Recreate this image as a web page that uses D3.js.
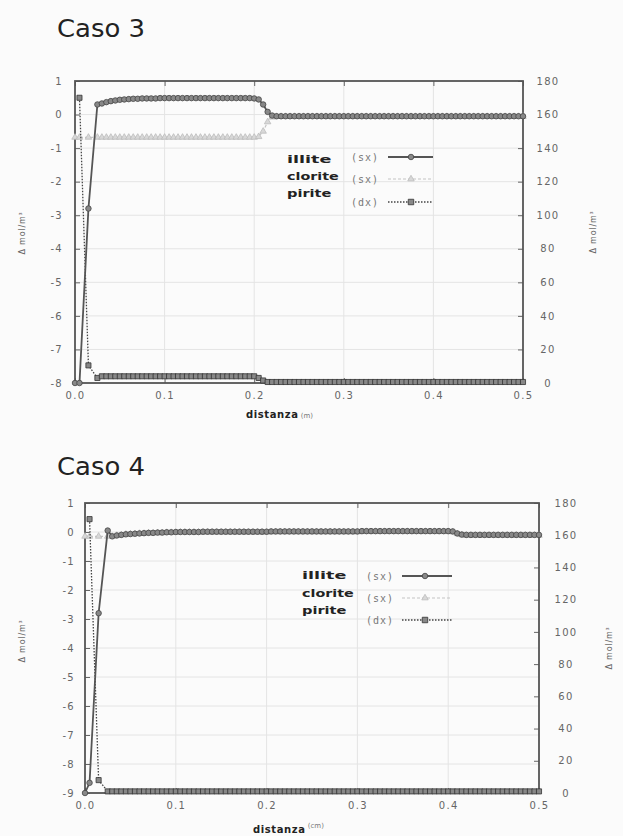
<!DOCTYPE html>
<html><head><meta charset="utf-8">
<script src="https://cdn.jsdelivr.net/npm/d3@7"></script>
<style>body{margin:0;background:#fbfbfb} svg{display:block}</style>
</head><body><svg id="c" width="623" height="836"></svg>
<script>
// ---------- DATA ----------
const distance = [0,0.005,0.015,
 0.025,0.03,0.035,0.04,0.045,0.05,0.055,0.06,0.065,0.07,0.075,0.08,0.085,0.09,0.095,0.1,
 0.105,0.11,0.115,0.12,0.125,0.13,0.135,0.14,0.145,0.15,0.155,0.16,0.165,0.17,0.175,0.18,0.185,0.19,0.195,0.2,
 0.205,0.21,0.215,0.22,0.225,0.23,0.235,0.24,0.245,0.25,0.255,0.26,0.265,0.27,0.275,0.28,0.285,0.29,0.295,0.3,
 0.305,0.31,0.315,0.32,0.325,0.33,0.335,0.34,0.345,0.35,0.355,0.36,0.365,0.37,0.375,0.38,0.385,0.39,0.395,0.4,
 0.405,0.41,0.415,0.42,0.425,0.43,0.435,0.44,0.445,0.45,0.455,0.46,0.465,0.47,0.475,0.48,0.485,0.49,0.495,0.5];

// Caso 3
const illite3 = [-8,-8,-2.8,
 0.3,0.33,0.37,0.4,0.42,0.44,0.45,0.46,0.47,0.47,0.48,0.48,0.48,0.48,0.49,0.49,
 0.49,0.49,0.49,0.49,0.49,0.49,0.49,0.49,0.49,0.49,0.49,0.49,0.49,0.49,0.49,0.49,0.49,0.49,0.49,0.48,
 0.45,0.3,0.08,-0.03,-0.05,-0.05,-0.05,-0.05,-0.05,-0.05,-0.05,-0.05,-0.05,-0.05,-0.05,-0.05,-0.05,-0.05,-0.05,-0.05,
 -0.05,-0.05,-0.05,-0.05,-0.05,-0.05,-0.05,-0.05,-0.05,-0.05,-0.05,-0.05,-0.05,-0.05,-0.05,-0.05,-0.05,-0.05,-0.05,-0.05,
 -0.05,-0.05,-0.05,-0.05,-0.05,-0.05,-0.05,-0.05,-0.05,-0.05,-0.05,-0.05,-0.05,-0.05,-0.05,-0.05,-0.05,-0.05,-0.05,-0.05];
const clorite3 = [-0.68,-0.68,-0.68,
 -0.68,-0.68,-0.68,-0.68,-0.68,-0.68,-0.68,-0.68,-0.68,-0.68,-0.68,-0.68,-0.68,-0.68,-0.68,-0.68,
 -0.68,-0.68,-0.68,-0.68,-0.68,-0.68,-0.68,-0.68,-0.68,-0.68,-0.68,-0.68,-0.68,-0.68,-0.68,-0.68,-0.68,-0.68,-0.68,-0.68,
 -0.66,-0.5,-0.22,-0.08,-0.06,-0.06,-0.06,-0.06,-0.06,-0.06,-0.06,-0.06,-0.06,-0.06,-0.06,-0.06,-0.06,-0.06,-0.06,-0.06,
 -0.06,-0.06,-0.06,-0.06,-0.06,-0.06,-0.06,-0.06,-0.06,-0.06,-0.06,-0.06,-0.06,-0.06,-0.06,-0.06,-0.06,-0.06,-0.06,-0.06,
 -0.06,-0.06,-0.06,-0.06,-0.06,-0.06,-0.06,-0.06,-0.06,-0.06,-0.06,-0.06,-0.06,-0.06,-0.06,-0.06,-0.06,-0.06,-0.06,-0.06];
const pirite3 = [null,170,10.5,
 3,4,4,4,4,4,4,4,4,4,4,4,4,4,4,4,
 4,4,4,4,4,4,4,4,4,4,4,4,4,4,4,4,4,4,4,4,
 3,1.5,0.6,0.6,0.6,0.6,0.6,0.6,0.6,0.6,0.6,0.6,0.6,0.6,0.6,0.6,0.6,0.6,0.6,0.6,
 0.6,0.6,0.6,0.6,0.6,0.6,0.6,0.6,0.6,0.6,0.6,0.6,0.6,0.6,0.6,0.6,0.6,0.6,0.6,0.6,
 0.6,0.6,0.6,0.6,0.6,0.6,0.6,0.6,0.6,0.6,0.6,0.6,0.6,0.6,0.6,0.6,0.6,0.6,0.6,0.6];

// Caso 4
const illite4 = [-9,-8.65,-2.8,
 0.05,-0.15,-0.12,-0.1,-0.08,-0.07,-0.06,-0.05,-0.04,-0.03,-0.03,-0.02,-0.02,-0.01,-0.01,0,
 0,0,0,0,0,0.01,0.01,0.01,0.01,0.01,0.01,0.01,0.01,0.01,0.01,0.01,0.01,0.01,0.01,0.01,
 0.02,0.02,0.02,0.02,0.02,0.02,0.02,0.02,0.02,0.02,0.02,0.02,0.02,0.02,0.02,0.02,0.02,0.02,0.02,0.02,
 0.03,0.03,0.03,0.03,0.03,0.03,0.03,0.03,0.03,0.03,0.03,0.03,0.03,0.03,0.03,0.03,0.03,0.03,0.03,0.03,
 0.02,-0.05,-0.09,-0.1,-0.1,-0.1,-0.1,-0.1,-0.1,-0.1,-0.1,-0.1,-0.1,-0.1,-0.1,-0.1,-0.1,-0.1,-0.1,-0.1];
const clorite4 = [-0.15,-0.15,-0.15,
 -0.15,-0.15,-0.12,-0.1,-0.08,-0.07,-0.06,-0.05,-0.05,-0.04,-0.04,-0.03,-0.03,-0.02,-0.02,-0.02,
 -0.01,-0.01,-0.01,-0.01,-0.01,-0.01,-0.01,-0.01,-0.01,-0.01,-0.01,-0.01,-0.01,-0.01,-0.01,-0.01,-0.01,-0.01,-0.01,-0.01,
 0,0,0,0,0,0,0,0,0,0,0,0,0,0,0,0,0,0,0,0,
 0.01,0.01,0.01,0.01,0.01,0.01,0.01,0.01,0.01,0.01,0.01,0.01,0.01,0.01,0.01,0.01,0.01,0.01,0.01,0.01,
 0,-0.06,-0.1,-0.12,-0.12,-0.12,-0.12,-0.12,-0.12,-0.12,-0.12,-0.12,-0.12,-0.12,-0.12,-0.12,-0.12,-0.12,-0.12,-0.12];
const pirite4 = [null,170,8,
 1,1,1,1,1,1,1,1,1,1,1,1,1,1,1,1,
 1,1,1,1,1,1,1,1,1,1,1,1,1,1,1,1,1,1,1,1,
 1,1,1,1,1,1,1,1,1,1,1,1,1,1,1,1,1,1,1,1,
 1,1,1,1,1,1,1,1,1,1,1,1,1,1,1,1,1,1,1,1,
 1,1,1,1,1,1,1,1,1,1,1,1,1,1,1,1,1,1,1,1];

// ticks / labels
const xTicks = [0,0.1,0.2,0.3,0.4,0.5];
const xTickLabels = ["0.0","0.1","0.2","0.3","0.4","0.5"];
const leftTicks3 = [1,0,-1,-2,-3,-4,-5,-6,-7,-8];
const leftTicks4 = [1,0,-1,-2,-3,-4,-5,-6,-7,-8,-9];
const rightTicks = [0,20,40,60,80,100,120,140,160,180];
const seriesNames = ["illite","clorite","pirite"];
const seriesSides = ["(sx)","(sx)","(dx)"];
const titles = ["Caso 3","Caso 4"];
const xTitles = ["(m)","(cm)"];
const yTitle = "Δ mol/m³";

// ---------- DRAW ----------
const svg = d3.select("#c");
const FONT = "'DejaVu Sans', sans-serif";
const fmt = d => String(d);

function panel(o){
  const g = svg.append("g");
  const x = d3.scaleLinear().domain([0,0.5]).range([o.L,o.R]);
  const yl = d3.scaleLinear().domain([o.yMin,1]).range([o.B,o.T]);
  const yr = d3.scaleLinear().domain([0,180]).range([o.B,o.T]);

  // title
  svg.append("text").attr("x",57).attr("y",o.titleY).text(o.title)
    .attr("font-family","'DejaVu Sans', sans-serif").attr("font-size",25).attr("fill","#222")
    .attr("textLength",88).attr("lengthAdjust","spacingAndGlyphs");

  // grid
  g.append("g").selectAll("line").data(xTicks.slice(1,-1)).join("line")
    .attr("x1",d=>x(d)).attr("x2",d=>x(d)).attr("y1",o.T).attr("y2",o.B)
    .attr("stroke","#e4e4e4").attr("stroke-width",1);
  g.append("g").selectAll("line").data(o.leftTicks.slice(1,-1)).join("line")
    .attr("y1",d=>yl(d)).attr("y2",d=>yl(d)).attr("x1",o.L).attr("x2",o.R)
    .attr("stroke","#e4e4e4").attr("stroke-width",1);

  // axes (ticks inward)
  const ax = (sel)=>sel.call(s=>s.select(".domain").remove());
  g.append("g").attr("transform",`translate(0,${o.B})`)
    .call(d3.axisBottom(x).tickValues(xTicks).tickSize(-5).tickPadding(9).tickFormat((d,i)=>xTickLabels[i]))
    .call(ax);
  g.append("g").attr("transform",`translate(0,${o.T})`)
    .call(d3.axisTop(x).tickValues(xTicks).tickSize(-5).tickFormat(""))
    .call(ax);
  g.append("g").attr("transform",`translate(${o.L},0)`)
    .call(d3.axisLeft(yl).tickValues(o.leftTicks).tickSize(-5).tickPadding(o.lPad).tickFormat(fmt))
    .call(ax);
  g.append("g").attr("transform",`translate(${o.R},0)`)
    .call(d3.axisRight(yr).tickValues(rightTicks).tickSize(-5).tickPadding(o.rPad).tickFormat(fmt))
    .call(ax)
    .call(s=>s.selectAll("text").attr("text-anchor","middle"));
  g.selectAll(".tick line").attr("stroke","#666");
  g.selectAll(".tick text").attr("fill","#666").attr("font-family",FONT)
    .attr("font-size",10).attr("letter-spacing",1.3);

  // frame
  g.append("rect").attr("x",o.L).attr("y",o.T).attr("width",o.R-o.L).attr("height",o.B-o.T)
    .attr("fill","none").attr("stroke","#555").attr("stroke-width",1.8);

  // series
  const mk = (arr)=>distance.map((d,i)=>({x:d,v:arr[i]}));
  const defs = [
    {data:mk(o.clorite),y:yl,color:"#c4c4c4",dash:"3,2",w:1.2,sym:d3.symbolTriangle,size:18,fill:"#d8d8d8",mstroke:"#bbb"},
    {data:mk(o.pirite),y:yr,color:"#444",dash:"1.5,1.5",w:1.3,sym:d3.symbolSquare,size:26,fill:"#888",mstroke:"#333"},
    {data:mk(o.illite),y:yl,color:"#555",dash:null,w:1.8,sym:d3.symbolCircle,size:24,fill:"#888",mstroke:"#444"}
  ];
  defs.forEach(s=>{
    const line = d3.line().defined(d=>d.v!=null).x(d=>x(d.x)).y(d=>s.y(d.v));
    g.append("path").datum(s.data).attr("d",line).attr("fill","none")
      .attr("stroke",s.color).attr("stroke-width",s.w).attr("stroke-dasharray",s.dash);
    g.append("g").selectAll("path").data(s.data.filter(d=>d.v!=null)).join("path")
      .attr("transform",d=>`translate(${x(d.x)},${s.y(d.v)})`)
      .attr("d",d3.symbol(s.sym,s.size)).attr("fill",s.fill).attr("stroke",s.mstroke).attr("stroke-width",0.8);
  });

  // legend
  const lg = svg.append("g");
  const legStyle = [
    {color:"#555",dash:null,w:1.8,sym:d3.symbolCircle,size:24,fill:"#888",ms:"#444"},
    {color:"#c4c4c4",dash:"3,2",w:1.2,sym:d3.symbolTriangle,size:18,fill:"#d8d8d8",ms:"#bbb"},
    {color:"#444",dash:"1.5,1.5",w:1.3,sym:d3.symbolSquare,size:30,fill:"#888",ms:"#333"}
  ];
  seriesNames.forEach((n,i)=>{
    lg.append("text").attr("x",o.legNameX).attr("y",o.legNameY[i]+4).text(n)
      .attr("font-family",FONT).attr("font-weight","bold").attr("font-size",11).attr("fill","#222")
      .attr("textLength",n.length*7.4).attr("lengthAdjust","spacingAndGlyphs");
    lg.append("text").attr("x",o.legSideX).attr("y",o.legRowY[i]+4).text(seriesSides[i])
      .attr("text-anchor","middle").attr("font-family","'DejaVu Sans Mono', monospace").attr("font-size",10)
      .attr("fill","#777").attr("letter-spacing",1);
    const st = legStyle[i];
    lg.append("line").attr("x1",o.legLine[0]).attr("x2",o.legLine[1]).attr("y1",o.legRowY[i]).attr("y2",o.legRowY[i])
      .attr("stroke",st.color).attr("stroke-width",st.w).attr("stroke-dasharray",st.dash);
    lg.append("path").attr("transform",`translate(${o.legMark},${o.legRowY[i]})`)
      .attr("d",d3.symbol(st.sym,st.size)).attr("fill",st.fill).attr("stroke",st.ms).attr("stroke-width",0.8);
  });

  // axis titles
  const xt = svg.append("text").attr("x",o.xTitleX).attr("y",o.xTitleY).attr("font-family",FONT).attr("fill","#222");
  xt.append("tspan").text("distanza").attr("font-weight","bold").attr("font-size",10).attr("letter-spacing",0.6);
  xt.append("tspan").text(" "+o.xUnit).attr("font-size",7).attr("fill","#777").attr("dy",o.unitDy);
  [[o.yLX,o.yLY],[o.yRX,o.yRY]].forEach(p=>{
    svg.append("text").attr("transform",`translate(${p[0]},${p[1]}) rotate(-90)`).attr("text-anchor","middle")
      .attr("font-family",FONT).attr("font-size",8).attr("fill","#666").attr("letter-spacing",0.8).text(yTitle);
  });
}

panel({L:75,R:523,T:81,B:383,yMin:-8,leftTicks:leftTicks3,lPad:12,rPad:25,
  title:titles[0],titleY:37,illite:illite3,clorite:clorite3,pirite:pirite3,
  legNameX:287,legNameY:[159,176,193],legSideX:365,legRowY:[157,179,202],legLine:[388,433],legMark:411,
  xTitleX:246,xTitleY:418,xUnit:xTitles[0],unitDy:0,yLX:25,yLY:233,yRX:596,yRY:232});
panel({L:85,R:539,T:503,B:793,yMin:-9,leftTicks:leftTicks4,lPad:10,rPad:27,
  title:titles[1],titleY:475,illite:illite4,clorite:clorite4,pirite:pirite4,
  legNameX:302,legNameY:[575,593,610],legSideX:380,legRowY:[576,598,620],legLine:[402,452],legMark:425,
  xTitleX:253,xTitleY:833,xUnit:xTitles[1],unitDy:-5,yLX:25,yLY:641,yRX:612,yRY:648});
</script></body></html>
